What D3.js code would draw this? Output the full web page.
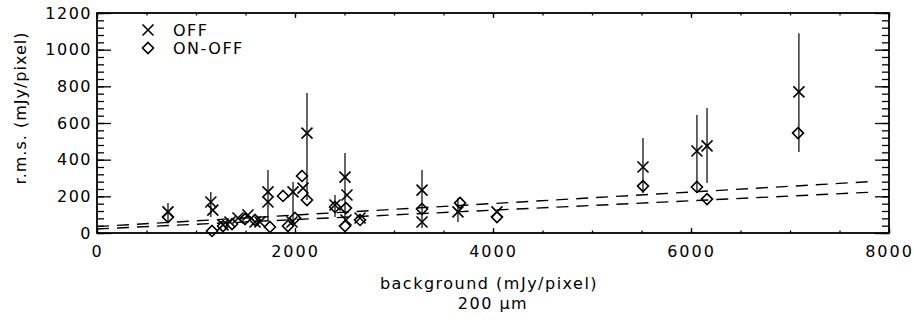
<!DOCTYPE html>
<html>
<head>
<meta charset="utf-8">
<script src="https://cdn.jsdelivr.net/npm/d3@7"></script>
<style>
  body { margin: 0; background: #fff; }
  svg text { font-family: "DejaVu Sans", sans-serif; fill: #000; }
</style>
</head>
<body>
<svg id="chart" width="914" height="320"></svg>
<script>
// ---- data ----
const offX  = [717, 1150, 1170, 1273, 1343, 1424, 1525, 1596, 1646, 1727, 1727, 1980, 1970, 2081, 2121, 2404, 2505, 2525, 2515, 2657, 3283, 3283, 3646, 4040, 5515, 6060, 6162, 7090];
const offY  = [115, 169, 125, 44, 60, 82, 98, 60, 60, 224, 169, 224, 60, 245, 545, 153, 305, 207, 71, 82, 234, 60, 115, 115, 360, 447, 475, 770];
const offLo = [60, 87, null, null, null, null, null, null, null, 71, null, 33, null, null, 180, 87, 71, null, null, null, 27, null, 60, null, 218, 218, 273, 442];
const offHi = [164, 224, null, null, null, null, null, null, null, 344, null, 278, null, null, 764, 207, 436, null, null, null, 344, null, 191, null, 518, 644, 682, 1090];

const onX = [717, 1162, 1273, 1364, 1495, 1596, 1747, 1879, 1929, 2000, 2071, 2121, 2404, 2515, 2505, 2657, 3283, 3667, 4040, 5515, 6060, 6162, 7081];
const onY = [87, 11, 38, 49, 76, 71, 33, 202, 38, 82, 311, 180, 142, 136, 38, 71, 131, 164, 87, 256, 251, 185, 545];

const fitX   = [0, 7800];
const fitOff = [35, 280];
const fitOn  = [22, 222];

const xTicks = [0, 2000, 4000, 6000, 8000];
const yTicks = [0, 200, 400, 600, 800, 1000, 1200];
const legendLabels = ["OFF", "ON-OFF"];

// ---- layout ----
const svg = d3.select("#chart");
const L = 97, R = 889, T = 13, B = 233;
const x = d3.scaleLinear().domain([0, 8000]).range([L, R]);
const y = d3.scaleLinear().domain([0, 1200]).range([B, T]);

// axes (ticks inward)
const xMinor = d3.range(0, 8001, 500);
const yMinor = d3.range(0, 1201, 40);

function axisGroup(axis, tx, ty) {
  const g = svg.append("g").attr("transform", `translate(${tx},${ty})`).call(axis);
  g.select(".domain").remove();
  g.selectAll("line").attr("stroke", "#000").attr("stroke-width", 1.3);
  return g;
}
// bottom
axisGroup(d3.axisBottom(x).tickValues(xMinor).tickSize(-2.5).tickFormat(""), 0, B);
const xb = axisGroup(d3.axisBottom(x).tickValues(xTicks).tickSize(-5).tickPadding(13).tickFormat(d3.format("d")), 0, B);
xb.selectAll("text").attr("font-size", 16).attr("letter-spacing", 2).attr("dy", "0.71em");
// top
axisGroup(d3.axisTop(x).tickValues(xMinor).tickSize(-2.5).tickFormat(""), 0, T);
axisGroup(d3.axisTop(x).tickValues(xTicks).tickSize(-5).tickFormat(""), 0, T);
// left
axisGroup(d3.axisLeft(y).tickValues(yMinor).tickSize(-7).tickFormat(""), L, 0);
const yl = axisGroup(d3.axisLeft(y).tickValues(yTicks).tickSize(-14).tickPadding(5).tickFormat(d3.format("d")), L, 0);
yl.selectAll("text").attr("font-size", 16).attr("letter-spacing", 1.5);
// right
axisGroup(d3.axisRight(y).tickValues(yMinor).tickSize(-7).tickFormat(""), R, 0);
axisGroup(d3.axisRight(y).tickValues(yTicks).tickSize(-14).tickFormat(""), R, 0);

// frame
svg.append("rect").attr("x", L).attr("y", T).attr("width", R - L).attr("height", B - T)
  .attr("fill", "none").attr("stroke", "#000").attr("stroke-width", 1.8);

// fit lines (dashed)
const line = d3.line().x(d => x(d[0])).y(d => y(d[1]));
[fitOff, fitOn].forEach(f => {
  svg.append("path").datum(fitX.map((v, i) => [v, f[i]]))
    .attr("d", line).attr("fill", "none").attr("stroke", "#000")
    .attr("stroke-width", 1.4).attr("stroke-dasharray", "12,8");
});

// error bars
const bars = offX.map((v, i) => ({ x: v, lo: offLo[i], hi: offHi[i] })).filter(d => d.lo !== null);
svg.append("g").selectAll("line").data(bars).join("line")
  .attr("x1", d => x(d.x)).attr("x2", d => x(d.x))
  .attr("y1", d => y(d.lo)).attr("y2", d => y(d.hi))
  .attr("stroke", "#000").attr("stroke-width", 1.2);

// markers
const s = 5.5;
function cross(g) {
  g.append("path").attr("d", `M${-s},${-s}L${s},${s}M${-s},${s}L${s},${-s}`)
    .attr("stroke", "#000").attr("stroke-width", 1.6).attr("fill", "none");
}
function diamond(g) {
  g.append("path").attr("d", `M0,${-s}L${s},0L0,${s}L${-s},0Z`)
    .attr("stroke", "#000").attr("stroke-width", 1.6).attr("fill", "none");
}
offX.forEach((v, i) => cross(svg.append("g").attr("transform", `translate(${x(v)},${y(offY[i])})`)));
onX.forEach((v, i) => diamond(svg.append("g").attr("transform", `translate(${x(v)},${y(onY[i])})`)));

// legend
const lg = svg.append("g");
cross(lg.append("g").attr("transform", "translate(148,30)"));
diamond(lg.append("g").attr("transform", "translate(148,48)"));
legendLabels.forEach((t, i) => {
  lg.append("text").attr("x", 173).attr("y", 30 + i * 18).attr("dy", "0.36em")
    .attr("font-size", 16).attr("letter-spacing", 1.5).text(t);
});

// axis titles
svg.append("text").attr("transform", "translate(26,108) rotate(-90)")
  .attr("text-anchor", "middle").attr("font-size", 16).attr("letter-spacing", 1)
  .text("r.m.s. (mJy/pixel)");
svg.append("text").attr("x", 489).attr("y", 283).attr("dy", "0.36em")
  .attr("text-anchor", "middle").attr("font-size", 16).attr("letter-spacing", 1.5)
  .text("background (mJy/pixel)");
svg.append("text").attr("x", 493).attr("y", 303).attr("dy", "0.36em")
  .attr("text-anchor", "middle").attr("font-size", 16).attr("letter-spacing", 1.5)
  .text("200 μm");
</script>
</body>
</html>
